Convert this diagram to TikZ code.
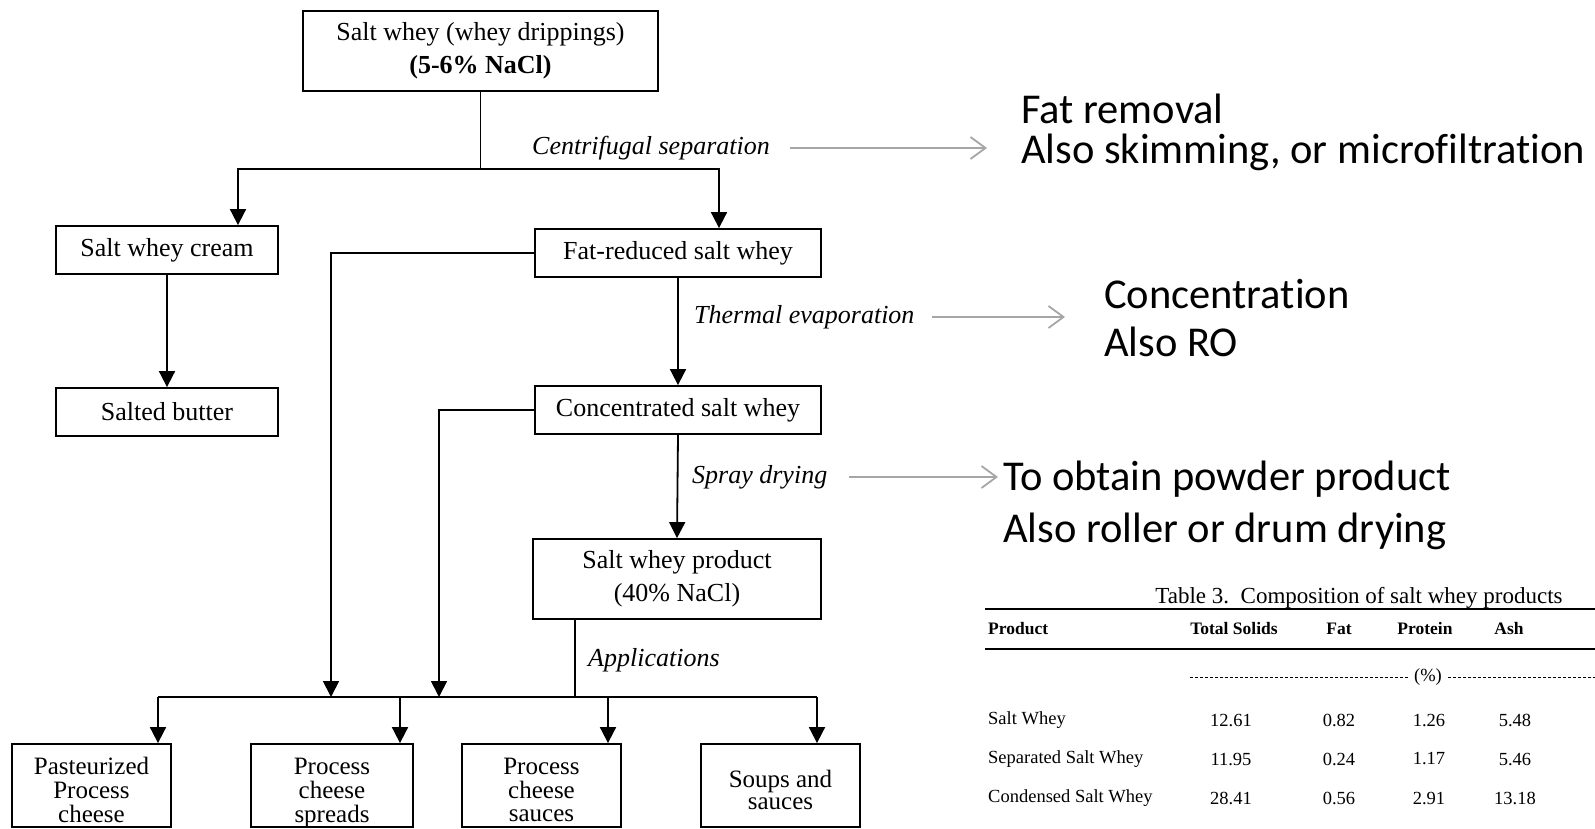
\documentclass[tikz,border=0pt]{standalone}
\usepackage{fontspec}
\setmainfont{Liberation Serif}
\newfontfamily\calibri[Ligatures={NoCommon}]{Carlito}
\usetikzlibrary{arrows.meta}
\newcommand{\dishtext}[1]{\raisebox{-14pt}[0pt][0pt]{\begin{tabular}{@{}c@{}}#1\end{tabular}}}
\tikzset{
  box/.style={draw, line width=1.8pt, inner sep=0pt, align=center, font=\fontsize{26}{33}\selectfont},
  dish/.style={box, minimum height=83, font=\fontsize{25}{22.5}\selectfont},
  link/.style={line width=1.8pt},
  arr/.style={line width=1.8pt, -{Triangle[width=16pt,length=16pt]}},
  stage/.style={anchor=west, inner sep=0pt, font=\itshape\fontsize{26}{30}\selectfont},
  note/.style={draw=gray!70, line width=1.8pt, -{Straight Barb[length=15pt,width=22pt,line width=1.8pt]}},
  remark/.style={anchor=west, inner sep=0pt, align=left, font=\calibri\fontsize{42.5}{40}\selectfont},
  cell/.style={inner sep=0pt, font=\fontsize{18.5}{20}\selectfont},
  head/.style={inner sep=0pt, font=\bfseries\fontsize{17.5}{20}\selectfont},
  rule/.style={line width=1.5pt}
}
\begin{document}
\begin{tikzpicture}[x=1pt,y=-1pt]
\useasboundingbox (0,0) rectangle (1595,829);
\node[box, minimum width=355, minimum height=80] (whey) at (480.5,51) {Salt whey (whey drippings)\\\textbf{(5-6\% NaCl)}};
\node[box, minimum width=222, minimum height=48] (cream) at (167,250) {Salt whey cream};
\node[box, minimum width=222, minimum height=48] (butter) at (167,412) {Salted butter};
\node[box, minimum width=286, minimum height=48] (fatred) at (678,253) {Fat-reduced salt whey};
\node[box, minimum width=286, minimum height=48] (conc) at (678,410) {Concentrated salt whey};
\node[box, minimum width=288, minimum height=80] (prod) at (677,579) {Salt whey product\\(40\% NaCl)};
\node[dish, minimum width=159] (past) at (91.5,785.5) {\dishtext{Pasteurized\\Process\\cheese}};
\node[dish, minimum width=162] (spread) at (332,785.5) {\dishtext{Process\\cheese\\spreads}};
\node[dish, minimum width=159] (sauce) at (541.5,785.5) {\dishtext{Process\\cheese\\sauces}};
\node[dish, minimum width=159] (soup) at (780.5,785.5) {\dishtext{Soups and\\sauces}};
\coordinate (sl) at (238,169);
\coordinate (sr) at (719,169);
\coordinate (b1) at (331,697);
\coordinate (b2) at (439,697);
\coordinate (app) at (575,697);
\coordinate (busl) at (158,697);
\coordinate (bs) at (400,697);
\coordinate (bc) at (608,697);
\coordinate (busr) at (817,697);
\draw[arr] (whey.south) |- (sl) -- (sl |- cream.north);
\draw[arr] (whey.south) |- (sr) -- (sr |- fatred.north);
\draw[arr] (cream.south) -- (butter.north);
\draw[arr] (fatred.south) -- (conc.north);
\draw[arr] (conc.south) -- (prod.north);
\draw[arr] (fatred.west) -| (b1);
\draw[arr] (conc.west) -| (b2);
\draw[link] (app |- prod.south) -- (app);
\draw[link] (busl) -- (busr);
\draw[arr] (busl) -- (busl |- past.north);
\draw[arr] (bs) -- (bs |- spread.north);
\draw[arr] (bc) -- (bc |- sauce.north);
\draw[arr] (busr) -- (busr |- soup.north);
\node[stage] (cent) at (532,148) {Centrifugal separation};
\node[stage] (therm) at (694,317) {Thermal evaporation};
\node[stage] (spray) at (692,477) {Spray drying};
\node[stage] (appl) at (588,660) {Applications};
\node[remark] (fat) at (1021,132) {Fat removal\\Also skimming, or microfiltration};
\node[remark, font=\calibri\fontsize{42.5}{48}\selectfont] (concn) at (1104,318) {Concentration\\Also RO};
\node[remark, font=\calibri\fontsize{42.5}{52}\selectfont] (powder) at (1003,505) {To obtain powder product\\Also roller or drum drying};
\draw[note, shorten <=20pt, shorten >=34pt] (cent.east) -- (cent.east -| fat.west);
\draw[note, shorten <=17pt, shorten >=39pt] (therm.east) -- (therm.east -| concn.west);
\draw[note, shorten <=22pt, shorten >=5pt] (spray.east) -- (spray.east -| powder.west);
\node[cell, font=\fontsize{23}{24}\selectfont] (title) at (1359,598) {Table 3.\ \ Composition of salt whey products};
\draw[rule] (985,609) -- (1595,609);
\node[head, anchor=west] (hprod) at (988,629) {Product};
\node[head] (hts) at (1234,629) {Total Solids};
\node[head] (hfat) at (1339,629) {Fat};
\node[head] (hpro) at (1425,629) {Protein};
\node[head] (hash) at (1509,629) {Ash};
\draw[rule] (985,649) -- (1595,649);
\node[cell] (pct) at (1428,677) {(\%)};
\draw[dash pattern=on 3pt off 2pt, line width=0.8pt] (1190,677) -- ([xshift=-6pt]pct.west);
\draw[dash pattern=on 3pt off 2pt, line width=0.8pt] ([xshift=6pt]pct.east) -- (1595,677);
\node[cell, anchor=west] (r1) at (988,720) {Salt Whey};
\node[cell] at (1231,720) {12.61};
\node[cell] at (1339,720) {0.82};
\node[cell] at (1429,720) {1.26};
\node[cell] at (1515,720) {5.48};
\node[cell, anchor=west] (r2) at (988,759) {Separated Salt Whey};
\node[cell] at (1231,759) {11.95};
\node[cell] at (1339,759) {0.24};
\node[cell] at (1429,759) {1.17};
\node[cell] at (1515,759) {5.46};
\node[cell, anchor=west] (r3) at (988,798) {Condensed Salt Whey};
\node[cell] at (1231,798) {28.41};
\node[cell] at (1339,798) {0.56};
\node[cell] at (1429,798) {2.91};
\node[cell] at (1515,798) {13.18};
\end{tikzpicture}
\end{document}
